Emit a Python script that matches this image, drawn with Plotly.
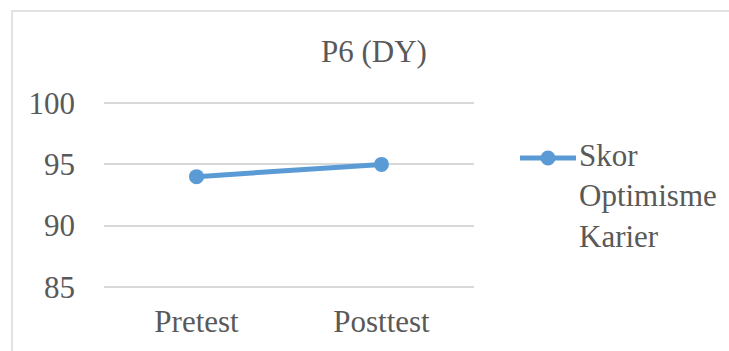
import plotly.graph_objects as go

# Chart data
categories = ["Pretest", "Posttest"]
scores = [94, 95]
series_name = "Skor<br>Optimisme<br>Karier"
y_ticks = [85, 90, 95, 100]

FONT = "Liberation Serif"
TEXT = "#595959"
BLUE = "#5B9BD5"
GRID = "#D9D9D9"

W, H = 729, 351
pad = 0.1
L, R, T, B = 104, 255, 102, 63
pw, ph = W - L - R, H - T - B


def px_x(p):
    return (p - L) / pw


def px_y(p):
    return (H - B - p) / ph


fig = go.Figure()
fig.add_trace(go.Scatter(
    x=categories, y=scores, name=series_name,
    mode="lines+markers",
    line=dict(color=BLUE, width=5),
    marker=dict(color=BLUE, size=15),
    showlegend=False,
))

# outer chart border (partially outside the window)
fig.add_shape(type="rect", xref="paper", yref="paper",
              x0=px_x(12), x1=2.0, y0=-1.0, y1=px_y(11),
              line=dict(color=GRID, width=1.5), fillcolor="rgba(0,0,0,0)",
              layer="below")

# legend key: line with a marker in the middle
ly = 158
fig.add_shape(type="line", xref="paper", yref="paper",
              x0=px_x(520), x1=px_x(576), y0=px_y(ly), y1=px_y(ly),
              line=dict(color=BLUE, width=5))
fig.add_shape(type="circle", xref="paper", yref="paper",
              x0=px_x(548 - 7.5), x1=px_x(548 + 7.5),
              y0=px_y(ly + 7.5), y1=px_y(ly - 7.5),
              line=dict(color=BLUE, width=0), fillcolor=BLUE)
fig.add_annotation(text=series_name, xref="paper", yref="paper",
                   x=px_x(577), xanchor="left", y=px_y(136), yanchor="top",
                   align="left", showarrow=False,
                   font=dict(family=FONT, size=31, color=TEXT))

fig.update_layout(
    width=W, height=H,
    margin=dict(l=L, r=R, t=T, b=B),
    paper_bgcolor="white", plot_bgcolor="white",
    font=dict(family=FONT, size=31, color=TEXT),
    title=dict(text="P6 (DY)", x=374 / W, xanchor="center",
               y=1 - 51 / H, yanchor="middle",
               font=dict(family=FONT, size=31, color=TEXT)),
    xaxis=dict(range=[-0.5, 1.5], showgrid=False, zeroline=False, showline=False,
               ticks="", ticklabelstandoff=12,
               tickfont=dict(family=FONT, size=31, color=TEXT)),
    yaxis=dict(range=[85 - pad, 100 + pad], tickvals=y_ticks, showgrid=True,
               gridcolor=GRID, gridwidth=1.5, zeroline=False, showline=False,
               ticks="", ticklabelstandoff=28,
               tickfont=dict(family=FONT, size=31, color=TEXT)),
)

fig.write_html("out.html")
